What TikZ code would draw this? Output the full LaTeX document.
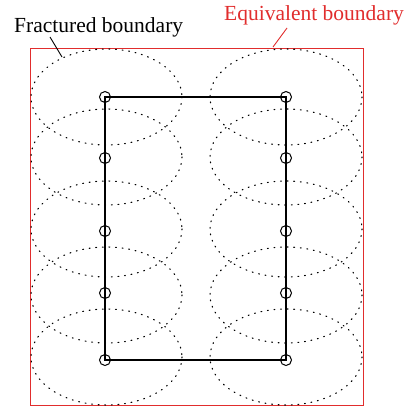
\documentclass[tikz,border=0pt]{standalone}
\usepackage{fontspec}
\setmainfont{Liberation Serif}
\begin{document}
\begin{tikzpicture}[x=1pt,y=-1pt,
  ell/.style={draw=black, line width=1.1pt, dash pattern=on 0.9pt off 5.7pt, line cap=round},
  joint/.style={circle, draw=black, line width=1pt, minimum size=11pt, inner sep=0pt},
  frame/.style={draw=black, line width=1.4pt},
  lab/.style={font=\fontsize{21.5}{24}\selectfont, inner sep=0pt, anchor=base west}]
\useasboundingbox (0,0) rectangle (411,408);
\definecolor{eqred}{RGB}{225,45,45}
% equivalent boundary
\draw[eqred, line width=1pt] (30,48) rectangle (363,405);
% ellipses
\foreach \y in {97,157,229,295,357}{
  \draw[ell] (106.5,\y) ellipse [x radius=75.5, y radius=48];
  \draw[ell] (286,\y) ellipse [x radius=76, y radius=48];
}
% joints
\node[joint] (l1) at (105,97) {};
\node[joint] (l2) at (105,158) {};
\node[joint] (l3) at (105,231) {};
\node[joint] (l4) at (105,293) {};
\node[joint] (l5) at (105,360) {};
\node[joint] (r1) at (286,97) {};
\node[joint] (r2) at (286,158) {};
\node[joint] (r3) at (286,231) {};
\node[joint] (r4) at (286,293) {};
\node[joint] (r5) at (286,360) {};
\draw[frame] (l1.center) -- (r1.center) -- (r2.center) -- (r3.center) -- (r4.center) -- (r5.center)
  -- (l5.center) -- (l4.center) -- (l3.center) -- (l2.center) -- cycle;
% labels
\node[lab] (fb) at (14,32) {Fractured boundary};
\node[lab, text=eqred] (eb) at (224,20) {Equivalent boundary};
\coordinate (fa) at (50,37);
\coordinate (fe) at (62,57);
\coordinate (ea) at (287,28);
\coordinate (ee) at (273,47);
\draw[line width=0.9pt] (fa) -- (fe);
\draw[eqred, line width=0.9pt] (ea) -- (ee);
\end{tikzpicture}
\end{document}
